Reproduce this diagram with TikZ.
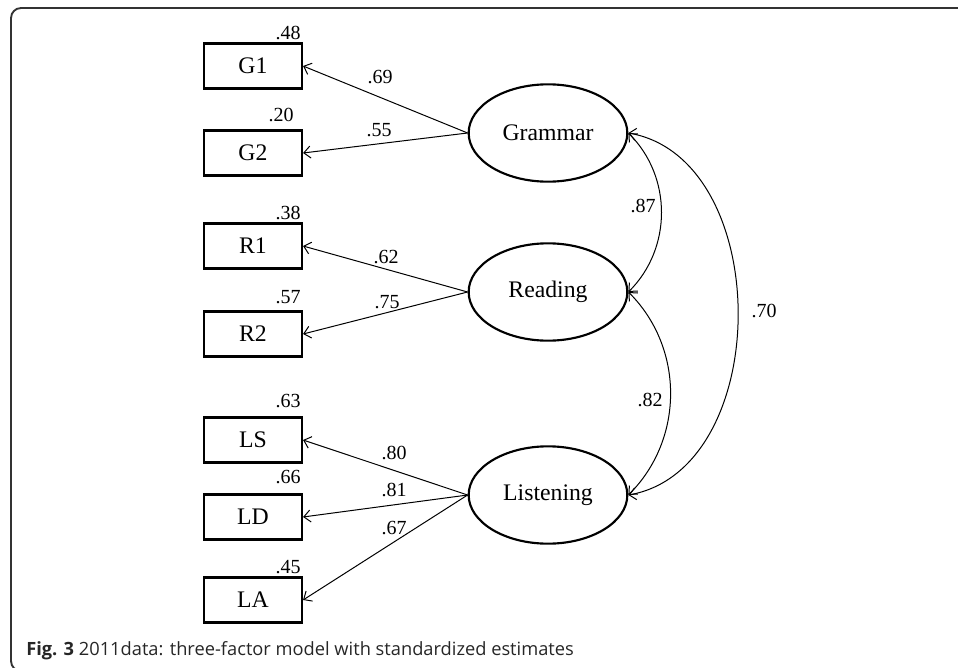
\documentclass[tikz,border=0pt]{standalone}
\usepackage{fontspec}
\setmainfont{Liberation Serif}
\newfontfamily\capfont{Open Sans}
\usetikzlibrary{arrows.meta,shapes.geometric}

\begin{document}
\begin{tikzpicture}[
  x=0.75pt, y=-0.75pt,
  obs/.style={draw, line width=1.6pt, minimum width=73.5pt, minimum height=33.75pt, inner sep=0pt, font=\fontsize{17.8}{20}\selectfont},
  lat/.style={ellipse, draw, line width=1.6pt, minimum width=119pt, minimum height=73pt, inner sep=0pt, font=\fontsize{17.8}{20}\selectfont},
  est/.style={inner sep=0pt, font=\fontsize{15}{17}\selectfont},
  arr/.style={-{Straight Barb[length=5pt,width=9pt]}, line width=0.75pt},
  cov/.style={{Straight Barb[length=5pt,width=9pt]}-{Straight Barb[length=5pt,width=9pt]}, line width=0.75pt},
  frame/.style={draw=black!80, line width=1.4pt, rounded corners=7.5pt}
]
\useasboundingbox (0,0) rectangle (958,668);
\draw[frame] (975,8) -- (11,8) -- (11,671) -- (40,671);

% observed indicators
\node[obs] (g1) at (253,66) {G1};
\node[obs] (g2) at (253,153) {G2};
\node[obs] (r1) at (253,246) {R1};
\node[obs] (r2) at (253,334) {R2};
\node[obs] (ls) at (253,440) {LS};
\node[obs] (ld) at (253,517) {LD};
\node[obs] (la) at (253,600) {LA};

% residual estimates
\node[est] (e48) at (288,33) {.48};
\node[est] (e20) at (281,115) {.20};
\node[est] (e38) at (288,213) {.38};
\node[est] (e57) at (288,297) {.57};
\node[est] (e63) at (288,401) {.63};
\node[est] (e66) at (288,477) {.66};
\node[est] (e45) at (288,567) {.45};

% factors
\node[lat] (gram) at (548,133) {Grammar};
\node[lat] (read) at (548,292) {Reading};
\node[lat] (list) at (548,495) {Listening};

% loadings
\draw[arr] (gram.west) -- (g1.east);
\draw[arr] (gram.west) -- (g2.east);
\draw[arr] (read.west) -- (r1.east);
\draw[arr] (read.west) -- (r2.east);
\draw[arr] (list.west) -- (ls.east);
\draw[arr] (list.west) -- (ld.east);
\draw[arr] (list.west) -- (la.east);
\node[est] (l69) at (380,77) {.69};
\node[est] (l55) at (379,130) {.55};
\node[est] (l62) at (386,257) {.62};
\node[est] (l75) at (387,302) {.75};
\node[est] (l80) at (394,453) {.80};
\node[est] (l81) at (394,490) {.81};
\node[est] (l67) at (394,528) {.67};

% factor covariances
\draw[cov] (gram.east) to[bend left=45] (read.east);
\draw[cov] (read.east) to[bend left=45] (list.east);
\draw[cov] (gram.east) to[bend left=80, looseness=1.05] (list.east);
\node[est] (c87) at (643,206) {.87};
\node[est] (c82) at (650,400) {.82};
\node[est] (c70) at (764,311) {.70};

% caption
\node[anchor=base west, inner sep=0pt, text=black!85, font=\capfont\fontsize{13.7}{15}\selectfont] (cap) at (26,655)
  {\textbf{Fig. 3} 2011data: three-factor model with standardized estimates};
\end{tikzpicture}
\end{document}
